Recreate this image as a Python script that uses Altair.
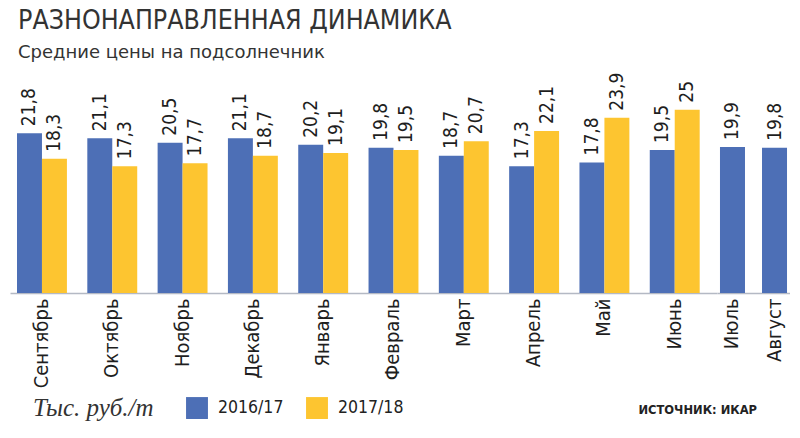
import altair as alt
import pandas as pd

months = ["Сентябрь", "Октябрь", "Ноябрь", "Декабрь", "Январь", "Февраль",
          "Март", "Апрель", "Май", "Июнь", "Июль", "Август"]
series = ["2016/17", "2017/18"]
v1617 = [21.8, 21.1, 20.5, 21.1, 20.2, 19.8, 18.7, 17.3, 17.8, 19.5, 19.9, 19.8]
v1718 = [18.3, 17.3, 17.7, 18.7, 19.1, 19.5, 20.7, 22.1, 23.9, 25.0, None, None]
colors = ["#4d6fb6", "#fdc530"]

title = "РАЗНОНАПРАВЛЕННАЯ ДИНАМИКА"
subtitle = "Средние цены на подсолнечник"
unit = "Тыс. руб./т"
source = "ИСТОЧНИК: ИКАР"

COND = "Liberation Sans Narrow, DejaVu Sans Condensed, Roboto, sans-serif"


def fmt(v):
    return f"{v:g}".replace(".", ",")


rows = []
for m, a, b in zip(months, v1617, v1718):
    rows.append({"month": m, "series": series[0], "value": a, "label": fmt(a)})
    if b is not None:
        rows.append({"month": m, "series": series[1], "value": b, "label": fmt(b)})
df = pd.DataFrame(rows)
df1 = df[df["month"].isin(months[:10])]
df2 = df[df["month"].isin(months[10:])]

H = 198
W1 = 707
W2 = 73

yscale = alt.Scale(domain=[0, 27], nice=False)
color = alt.Color("series:N", scale=alt.Scale(domain=series, range=colors),
                  legend=alt.Legend(
                      title=unit, orient="none", legendX=23, legendY=H + 104,
                      direction="horizontal", titleOrient="left",
                      titleFont="Liberation Serif", titleFontStyle="italic",
                      titleFontWeight="normal", titleFontSize=25, titleColor="#333333",
                      titlePadding=32, symbolType="square", symbolSize=480,
                      symbolStrokeWidth=0, symbolOpacity=1, labelFont=COND,
                      labelFontSize=17.5, labelColor="#222222", labelOffset=10,
                      columnPadding=22))

axis = alt.Axis(title=None, labelAngle=270, ticks=False, domainColor="#b4b9c4",
                domainWidth=1.5, labelFont=COND, labelFontSize=20,
                labelColor="#1e1e1e", labelPadding=5, grid=False)

x1 = alt.X("month:N", sort=months[:10], axis=axis,
           scale=alt.Scale(paddingInner=0.29, paddingOuter=0.173, align=0.288))
base1 = alt.Chart(df1).encode(
    x=x1,
    xOffset=alt.XOffset("series:N", sort=series, scale=alt.Scale(domain=series)),
    y=alt.Y("value:Q", scale=yscale, axis=None),
)
bars1 = base1.mark_bar().encode(color=color)
text1 = base1.mark_text(angle=270, align="left", baseline="middle", dx=7,
                        font=COND, fontSize=19, color="#1e1e1e").encode(text="label:N")
src = alt.Chart(pd.DataFrame({"t": [source]})).mark_text(
    align="right", baseline="alphabetic", font="DejaVu Sans", fontWeight="bold",
    fontSize=11.5, color="#222222").encode(
    text="t:N", x=alt.value(W1 + 40), y=alt.value(H + 121))
panel1 = alt.layer(bars1, text1, src).properties(width=W1, height=H)

x2 = alt.X("month:N", sort=months[10:], axis=axis,
           scale=alt.Scale(paddingInner=0.405, paddingOuter=0.071))
base2 = alt.Chart(df2).encode(x=x2, y=alt.Y("value:Q", scale=yscale, axis=None))
bars2 = base2.mark_bar().encode(color=color)
text2 = base2.mark_text(angle=270, align="left", baseline="middle", dx=7,
                        font=COND, fontSize=19, color="#1e1e1e").encode(text="label:N")
panel2 = alt.layer(bars2, text2).properties(width=W2, height=H)

chart = alt.hconcat(panel1, panel2, spacing=0, bounds="flush").resolve_scale(
    x="independent", y="shared", color="shared"
).properties(
    title=alt.TitleParams(text=title, subtitle=subtitle, anchor="start", dx=8, dy=-3,
                          font=COND, fontSize=26.5, fontWeight="normal", color="#333333",
                          subtitleFont="DejaVu Sans", subtitleFontSize=18,
                          subtitleColor="#333333", subtitlePadding=9, offset=8),
    padding={"left": 2, "top": 0, "right": 0, "bottom": 0},
).configure_view(stroke=None).configure_concat(spacing=0)

chart.save("out.html", embed_options={"renderer": "svg", "actions": False})
